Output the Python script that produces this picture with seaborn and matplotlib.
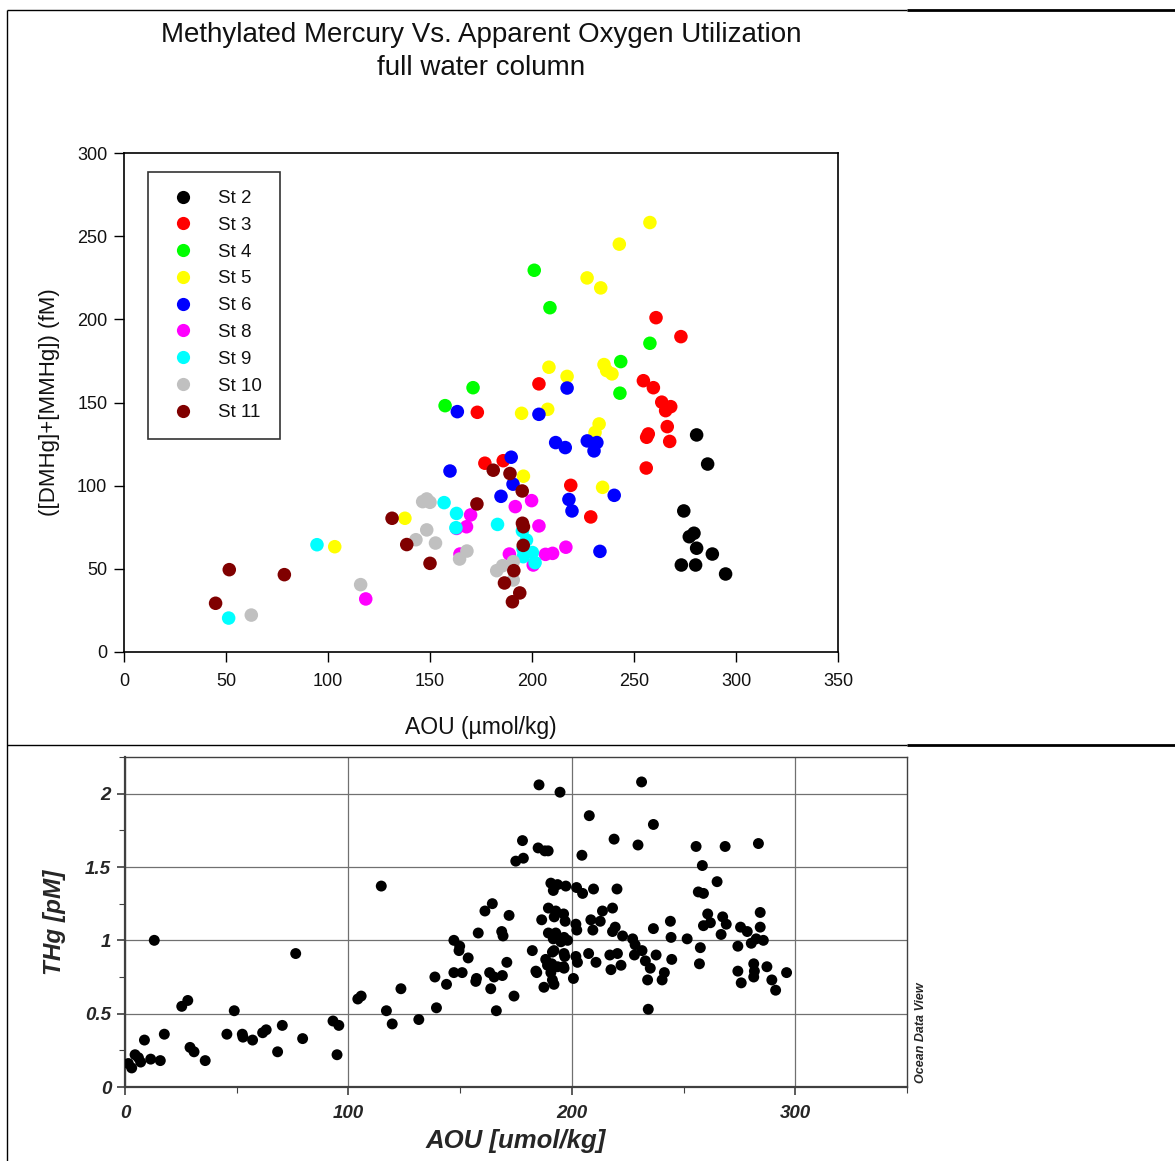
import matplotlib
matplotlib.use("Agg")
import matplotlib.pyplot as plt
from matplotlib.lines import Line2D
from matplotlib.ticker import MultipleLocator, FuncFormatter
import seaborn as sns
import pandas as pd

# ---------------- data: top panel (methylated Hg vs AOU) ----------------
stations = ["St 2", "St 3", "St 4", "St 5", "St 6", "St 8", "St 9", "St 10", "St 11"]
station_colors = ["#000000", "#ff0000", "#00ff00", "#ffff00", "#0000ff",
                  "#ff00ff", "#00ffff", "#c0c0c0", "#800000"]

st2_aou = [280.7, 286.1, 274.4, 277.1, 279.4, 280.7, 288.4, 273.2, 280.2, 294.9]
st2_mehg = [130.5, 113.0, 84.8, 69.3, 71.4, 62.4, 58.9, 52.3, 52.3, 46.9]

st3_aou = [260.8, 273.0, 254.6, 259.5, 263.6, 268.0, 265.5, 173.2, 203.4, 257.0,
           256.2, 266.3, 267.5, 256.0, 219.0, 228.8, 176.9, 185.9]
st3_mehg = [201.0, 189.6, 163.1, 158.9, 150.2, 147.5, 145.1, 144.1, 161.2, 131.1,
            129.1, 135.5, 126.6, 110.6, 100.2, 81.2, 113.5, 115.0]

st4_aou = [201.1, 208.8, 257.8, 243.5, 243.1, 171.1, 157.4]
st4_mehg = [229.5, 207.0, 185.6, 174.6, 155.6, 158.9, 148.1]

st5_aou = [257.8, 242.8, 227.0, 233.7, 235.3, 236.6, 239.2, 208.3, 217.2, 194.9,
           207.7, 232.9, 230.9, 195.8, 234.6, 137.7, 103.3]
st5_mehg = [258.2, 245.2, 224.9, 218.9, 172.8, 169.2, 167.2, 171.2, 165.7, 143.5,
            145.9, 137.1, 132.0, 105.7, 99.0, 80.4, 63.3]

st6_aou = [163.4, 217.2, 203.4, 211.6, 216.3, 227.1, 231.8, 230.4, 189.8, 190.7,
           184.8, 218.1, 219.6, 240.3, 233.3, 159.8]
st6_mehg = [144.5, 158.7, 142.9, 125.9, 122.9, 126.9, 125.9, 120.9, 117.1, 100.9,
            93.6, 91.7, 84.8, 94.2, 60.5, 108.8]

st8_aou = [169.9, 167.9, 163.0, 164.7, 118.5, 191.8, 199.8, 203.4, 188.9, 206.6,
           210.1, 216.6, 200.6]
st8_mehg = [82.4, 75.3, 74.3, 58.9, 31.9, 87.4, 91.0, 75.8, 58.9, 58.7,
            59.3, 63.0, 52.3]

st9_aou = [94.6, 51.3, 156.9, 163.0, 162.7, 183.1, 195.3, 197.3, 195.6, 200.2,
           195.7, 201.5]
st9_mehg = [64.5, 20.4, 89.8, 83.3, 74.7, 76.7, 72.8, 67.3, 61.9, 59.8,
            57.3, 53.7]

st10_aou = [148.4, 146.4, 150.0, 148.4, 143.1, 152.7, 168.1, 164.5, 116.0, 62.4,
            182.7, 185.6, 190.8, 190.8]
st10_mehg = [92.0, 90.4, 90.0, 73.4, 67.5, 65.5, 60.7, 55.9, 40.5, 22.2,
             48.9, 51.9, 54.3, 43.3]

st11_aou = [51.6, 44.9, 78.6, 131.4, 138.6, 150.0, 173.0, 181.0, 189.2, 195.2,
            195.3, 195.8, 195.7, 191.1, 186.5, 194.0, 190.4]
st11_mehg = [49.5, 29.3, 46.5, 80.4, 64.6, 53.3, 89.0, 109.3, 107.3, 96.8,
             77.4, 75.3, 64.1, 48.9, 41.5, 35.5, 30.2]

# ---------------- data: bottom panel (THg vs AOU) ----------------
thg_aou = [13.1, 114.7, 76.4, 25.4, 28.1, 48.9, 8.7, 17.6, 4.5, 6.0, 7.0, 1.5, 3.0,
           11.5, 15.8, 29.1, 30.9, 35.9, 45.6, 52.5, 52.8, 57.1, 61.6, 63.2, 70.4,
           68.3, 79.5, 93.1, 95.7, 94.9, 104.2, 105.7, 117.0, 119.6, 123.5, 131.5,
           185.3, 194.7, 231.2, 207.8, 236.5, 218.9, 229.6, 204.5, 177.9, 184.9,
           187.9, 189.4, 174.9, 178.3, 190.6, 193.6, 191.7, 197.3, 202.1, 204.8,
           209.7, 220.2, 189.5, 192.8, 192.1, 196.3, 197.0, 186.5, 201.8, 202.2,
           213.7, 212.7, 208.5, 218.2, 209.4, 219.4, 218.2, 222.7, 227.2, 228.3,
           231.4, 236.5, 237.7, 228.0, 232.9, 235.1, 233.9, 234.2, 217.0, 220.4,
           222.0, 217.5, 207.5, 210.8, 200.7, 201.8, 202.5, 189.5, 192.8, 191.7,
           195.1, 198.1, 196.5, 182.3, 191.3, 192.0, 196.5, 196.8, 188.3, 189.1,
           191.0, 193.6, 196.3, 196.5, 183.9, 184.3, 190.6, 191.3, 192.0, 187.5,
           161.1, 164.4, 171.9, 158.1, 168.6, 169.2, 147.2, 149.8, 149.5, 153.6,
           170.9, 147.2, 150.9, 138.7, 143.9, 157.3, 157.0, 163.2, 165.2, 168.9,
           163.7, 174.1, 166.2, 139.4,
           255.6, 268.6, 283.5, 258.4, 265.0, 256.6, 258.9, 260.8, 262.0, 258.9,
           267.5, 269.1, 266.8, 275.5, 278.5, 284.3, 284.3, 282.5, 285.7, 280.3,
           274.3, 257.5, 251.6, 244.1, 244.4, 257.1, 244.7, 241.4, 240.4, 274.3,
           275.8, 281.4, 281.7, 281.4, 287.3, 289.5, 291.2, 296.1]
thg_pm = [1.00, 1.37, 0.91, 0.55, 0.59, 0.52, 0.32, 0.36, 0.22, 0.20, 0.17, 0.16, 0.13,
          0.19, 0.18, 0.27, 0.24, 0.18, 0.36, 0.36, 0.34, 0.32, 0.37, 0.39, 0.42,
          0.24, 0.33, 0.45, 0.42, 0.22, 0.60, 0.62, 0.52, 0.43, 0.67, 0.46,
          2.06, 2.01, 2.08, 1.85, 1.79, 1.69, 1.65, 1.58, 1.68, 1.63,
          1.61, 1.61, 1.54, 1.56, 1.39, 1.38, 1.34, 1.37, 1.36, 1.32,
          1.35, 1.35, 1.22, 1.20, 1.16, 1.18, 1.13, 1.14, 1.11, 1.07,
          1.20, 1.13, 1.14, 1.22, 1.07, 1.09, 1.06, 1.03, 1.01, 0.97,
          0.93, 1.08, 0.90, 0.90, 0.86, 0.81, 0.73, 0.53, 0.90, 0.91,
          0.83, 0.80, 0.91, 0.85, 0.74, 0.89, 0.85, 1.05, 1.05, 1.01,
          0.99, 1.00, 1.02, 0.93, 0.92, 0.93, 0.91, 0.89, 0.87, 0.83,
          0.84, 0.82, 0.82, 0.81, 0.79, 0.78, 0.78, 0.73, 0.70, 0.68,
          1.20, 1.25, 1.17, 1.05, 1.06, 1.03, 1.00, 0.96, 0.93, 0.88,
          0.85, 0.78, 0.78, 0.75, 0.70, 0.74, 0.72, 0.78, 0.75, 0.76,
          0.67, 0.62, 0.52, 0.54,
          1.64, 1.64, 1.66, 1.51, 1.40, 1.33, 1.32, 1.18, 1.12, 1.10,
          1.16, 1.11, 1.04, 1.09, 1.06, 1.19, 1.09, 1.01, 1.00, 0.98,
          0.96, 0.95, 1.01, 1.13, 1.02, 0.84, 0.87, 0.78, 0.73, 0.79,
          0.71, 0.84, 0.79, 0.75, 0.82, 0.73, 0.66, 0.78]

# ---------------- build tables ----------------
top_x = [st2_aou, st3_aou, st4_aou, st5_aou, st6_aou, st8_aou, st9_aou, st10_aou, st11_aou]
top_y = [st2_mehg, st3_mehg, st4_mehg, st5_mehg, st6_mehg, st8_mehg, st9_mehg, st10_mehg, st11_mehg]
rows = []
for name, xs, ys in zip(stations, top_x, top_y):
    for a, b in zip(xs, ys):
        rows.append({"AOU": a, "MeHg": b, "Station": name})
df_top = pd.DataFrame(rows)
df_bot = pd.DataFrame({"AOU": thg_aou, "THg": thg_pm})

sns.set_theme(style="white")
plt.rcParams["font.family"] = ["Liberation Sans", "DejaVu Sans"]

W, H = 1175, 1161
fig = plt.figure(figsize=(W / 100, H / 100), dpi=100)
fig.patch.set_facecolor("white")

# ---------- top panel ----------
ax1 = fig.add_axes([124 / W, 1 - 652 / H, (838 - 124) / W, (652 - 153) / H])
sns.scatterplot(data=df_top, x="AOU", y="MeHg", hue="Station", hue_order=stations,
                palette=dict(zip(stations, station_colors)), s=95, linewidth=0,
                edgecolor="none", ax=ax1, legend=False, zorder=3)
ax1.set_xlim(0, 350)
ax1.set_ylim(0, 300)
ax1.xaxis.set_major_locator(MultipleLocator(50))
ax1.yaxis.set_major_locator(MultipleLocator(50))
for sp in ax1.spines.values():
    sp.set_color("black")
    sp.set_linewidth(1.2)
ax1.tick_params(axis="x", which="major", direction="out", length=7, width=1.0,
                color="black", labelsize=13, labelcolor="#111111", pad=8,
                bottom=True)
ax1.tick_params(axis="y", which="major", direction="out", length=7, width=1.0,
                color="black", labelsize=13, labelcolor="#111111", pad=5,
                left=True)
ax1.set_xlabel("AOU (\u00b5mol/kg)", fontsize=16.5, color="#111111", labelpad=19)
ax1.set_ylabel("([DMHg]+[MMHg]) (fM)", fontsize=16, color="#111111", labelpad=12)
ax1.grid(False)

handles = [Line2D([0], [0], marker="o", linestyle="none", markersize=9.5,
                  markerfacecolor=c, markeredgecolor="none") for c in station_colors]
leg = ax1.legend(handles, stations, loc="upper left", bbox_to_anchor=(0.034, 0.962),
                 frameon=True, fancybox=False, fontsize=13.5, borderpad=0.96,
                 labelspacing=0.515, handletextpad=0.96, handlelength=1.81,
                 borderaxespad=0)
leg.get_frame().set_edgecolor("black")
leg.get_frame().set_linewidth(1.2)
for t in leg.get_texts():
    t.set_color("#111111")

fig.text(481 / W, 1 - 35 / H, "Methylated Mercury Vs. Apparent Oxygen Utilization",
         ha="center", va="center", fontsize=20, color="#111111")
fig.text(481 / W, 1 - 68 / H, "full water column", ha="center", va="center",
         fontsize=20, color="#111111")

# ---------- bottom panel ----------
ax2 = fig.add_axes([125 / W, 1 - 1087 / H, (907 - 125) / W, (1087 - 757) / H])
sns.scatterplot(data=df_bot, x="AOU", y="THg", color="black", s=62, linewidth=0,
                edgecolor="none", ax=ax2, zorder=3)
ax2.set_xlim(0, 350)
ax2.set_ylim(0, 2.25)
ax2.xaxis.set_major_locator(MultipleLocator(100))
ax2.xaxis.set_minor_locator(MultipleLocator(50))
ax2.yaxis.set_major_locator(MultipleLocator(0.5))
ax2.yaxis.set_minor_locator(MultipleLocator(0.25))
ax2.yaxis.set_major_formatter(FuncFormatter(lambda v, p: f"{v:g}"))
ax2.grid(True, which="major", color="#707070", linewidth=0.9)
ax2.set_axisbelow(True)
for name, sp in ax2.spines.items():
    sp.set_color("#404040")
    sp.set_linewidth(1.0)
ax2.spines["left"].set_linewidth(1.6)
ax2.spines["bottom"].set_linewidth(1.6)
ax2.tick_params(axis="x", which="major", direction="out", length=6, width=1.2,
                color="#404040", labelsize=13.5, pad=7, bottom=True)
ax2.tick_params(axis="y", which="major", direction="out", length=6, width=1.2,
                color="#404040", labelsize=13.5, pad=4, left=True)
ax2.tick_params(axis="both", which="minor", direction="out", length=4, width=0.8,
                color="#404040", bottom=True, left=True)
for lab in ax2.get_xticklabels() + ax2.get_yticklabels():
    lab.set_fontweight("bold")
    lab.set_fontstyle("italic")
ax2.set_xlabel("AOU [umol/kg]", fontsize=18.5, fontweight="bold", fontstyle="italic",
               labelpad=5)
ax2.set_ylabel("THg [pM]", fontsize=17.5, fontweight="bold", fontstyle="italic",
               labelpad=14)
fig.text(921 / W, 1 - 1033 / H, "Ocean Data View", rotation=90, ha="center",
         va="center", fontsize=9, fontweight="bold", fontstyle="italic")

# ---------- page frame lines ----------
def fl(x0, y0, x1, y1, lw):
    fig.add_artist(Line2D([x0 / W, x1 / W], [1 - y0 / H, 1 - y1 / H],
                          color="black", linewidth=lw, solid_capstyle="butt"))

fl(7, 10, 907, 10, 1.0)
fl(907, 10, 1175, 10, 2.0)
fl(7, 745, 907, 745, 1.0)
fl(907, 745, 1175, 745, 2.0)
fl(7, 10, 7, 1161, 1.0)

fig.savefig("out.png", dpi=100, facecolor="white")
